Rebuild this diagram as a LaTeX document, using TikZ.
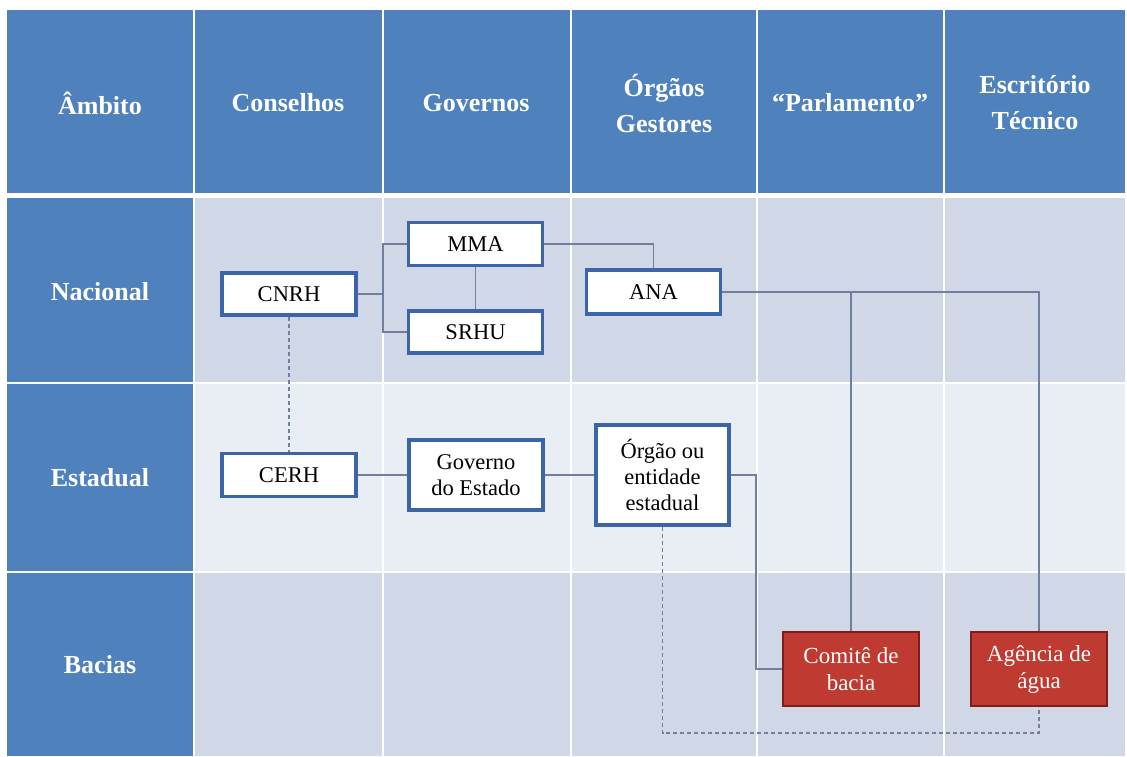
\documentclass[tikz,border=0pt]{standalone}
\usepackage{fontspec}
\setmainfont{Liberation Serif}
\definecolor{hdrblue}{HTML}{4F81BD}
\definecolor{bandA}{HTML}{D0D8E8}
\definecolor{bandB}{HTML}{E9EDF4}
\definecolor{boxborder}{HTML}{3C64A8}
\definecolor{conn}{HTML}{6F7F9C}
\definecolor{redfill}{HTML}{BF3A30}
\definecolor{redborder}{HTML}{7F1D1A}
\begin{document}
\begin{tikzpicture}[x=1pt,y=-1pt,
  hdr/.style={text=white,font=\bfseries\fontsize{26}{36}\selectfont,align=center,inner sep=0pt},
  bluebox/.style={draw=boxborder,line width=3.5pt,fill=white,inner sep=0pt,align=center,
    minimum width=134pt,font=\fontsize{22.5}{26}\selectfont},
  redbox/.style={draw=redborder,line width=1.5pt,fill=redfill,inner sep=0pt,align=center,
    minimum width=136pt,minimum height=74pt,text=white,font=\fontsize{23}{27}\selectfont},
  link/.style={draw=conn,line width=1.1pt},
  dlink/.style={draw=conn,line width=1.1pt,dash pattern=on 4pt off 3pt}]
\useasboundingbox (0,0) rectangle (1127,756);
\fill[white] (0,0) rectangle (1127,756);
% table backgrounds
\fill[hdrblue] (7,10) rectangle (1125,193);
\fill[hdrblue] (7,198) rectangle (194,756);
\fill[bandA] (194,198) rectangle (1125,383);
\fill[bandB] (194,383) rectangle (1125,572);
\fill[bandA] (194,572) rectangle (1125,756);
\foreach \xx in {194,383,571,757,944}{\draw[white,line width=1.4pt] (\xx,10) -- (\xx,756);}
\draw[white,line width=2pt] (7,383) -- (1125,383);
\draw[white,line width=2pt] (7,572) -- (1125,572);
% header
\node[hdr] (h1) at (100,103) {Âmbito};
\node[hdr] (h2) at (288,103) {Conselhos};
\node[hdr] (h3) at (476,103) {Governos};
\node[hdr] (h4) at (664,103) {Órgãos\\Gestores};
\node[hdr] (h5) at (850,103) {“Parlamento”};
\node[hdr] (h6) at (1035,103) {Escritório\\Técnico};
% row labels
\node[hdr] (r1) at (100,292) {Nacional};
\node[hdr] (r2) at (100,478) {Estadual};
\node[hdr] (r3) at (100,665) {Bacias};
% boxes
\node[bluebox,minimum height=42pt] (cnrh) at (289,294) {CNRH};
\node[bluebox,minimum height=43pt] (mma) at (475.5,244) {MMA};
\node[bluebox,minimum height=42pt] (srhu) at (475.5,332) {SRHU};
\node[bluebox,minimum height=44pt] (ana) at (653.5,292) {ANA};
\node[bluebox,minimum height=43pt] (cerh) at (289,475) {CERH};
\node[bluebox,minimum height=70pt] (gov) at (476,475) {Governo\\do Estado};
\node[bluebox,minimum height=100pt,minimum width=133pt] (orgao) at (662.5,475) {Órgão ou\\entidade\\estadual};
\node[redbox] (comite) at (851,669) {Comitê de\\bacia};
\node[redbox] (agencia) at (1039,669) {Agência de\\água};
% helper coordinates
\coordinate (jn) at (383,0);
\coordinate (je) at (756,0);
\coordinate (db) at (0,733);
% connectors
\draw[link] (cnrh.east) -- (cnrh.east -| jn);
\draw[link] (mma.west) -| (jn |- srhu.west) -- (srhu.west);
\draw[link] (mma.south) -- (srhu.north);
\draw[link] (mma.east) -| (ana.north);
\draw[link] (ana.east) -| (agencia.north);
\draw[link] (comite.north) -- (comite.north |- ana.east);
\draw[dlink] (cnrh.south) -- (cerh.north);
\draw[link] (cerh.east) -- (gov.west);
\draw[link] (gov.east) -- (orgao.west);
\draw[link] (orgao.east) -| (je |- comite.west) -- (comite.west);
\draw[dlink] (orgao.south) -- (orgao.south |- db) -| (agencia.south);
\end{tikzpicture}
\end{document}
